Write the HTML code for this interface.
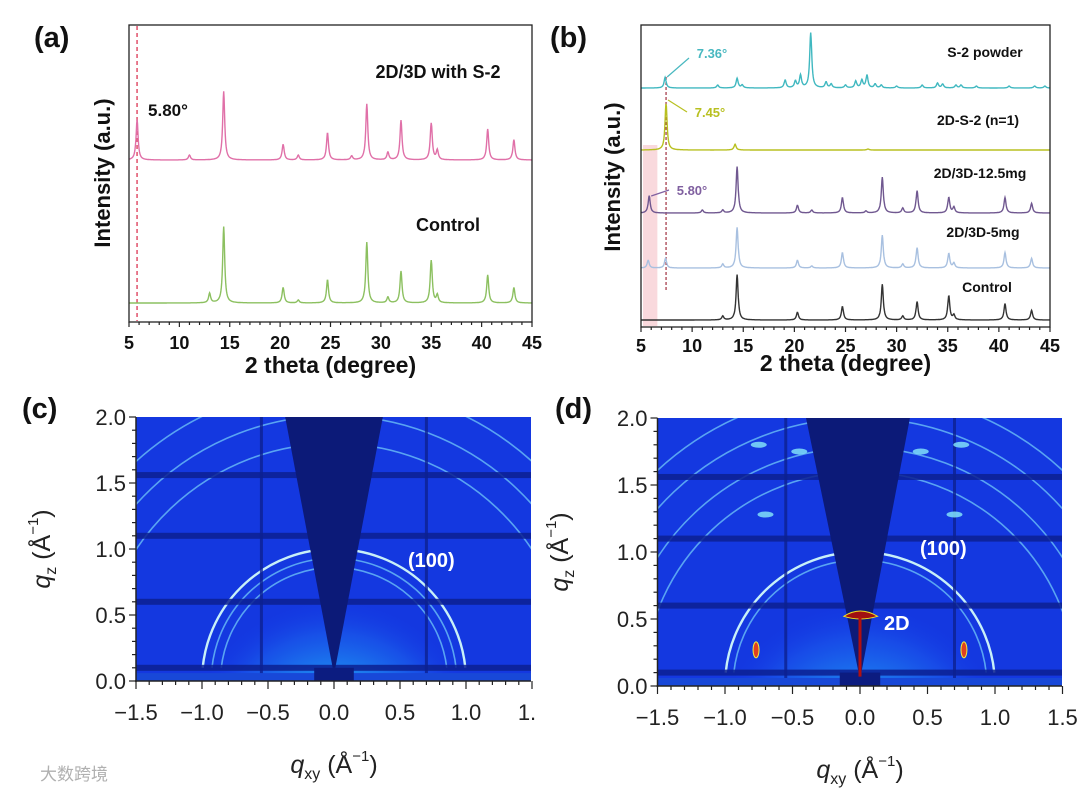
<!DOCTYPE html>
<html><head><meta charset="utf-8"><style>
html,body{margin:0;padding:0;background:#fff;}
svg{display:block;font-family:"Liberation Sans",Arial,sans-serif;}
</style></head><body>
<svg id="fig" width="1080" height="797" viewBox="0 0 1080 797" xmlns="http://www.w3.org/2000/svg">
<defs>
<radialGradient id="glowC" cx="0.5" cy="0.8" r="0.55"><stop offset="0" stop-color="#28e0f0"/><stop offset="0.35" stop-color="#20a8f4" stop-opacity="0.9"/><stop offset="0.75" stop-color="#1a60ec" stop-opacity="0.6"/><stop offset="1" stop-color="#1438e6" stop-opacity="0"/></radialGradient>
<radialGradient id="glowD" cx="0.5" cy="0.8" r="0.55"><stop offset="0" stop-color="#30f0e0"/><stop offset="0.3" stop-color="#20a0f4" stop-opacity="0.9"/><stop offset="0.75" stop-color="#1a58ec" stop-opacity="0.6"/><stop offset="1" stop-color="#1438e6" stop-opacity="0"/></radialGradient>
</defs>
</svg>
<script>
// ---------- data ----------
const aPinkPos=[5.8,11.0,14.4,20.3,21.8,24.7,27.1,28.6,30.7,32.0,35.0,35.6,40.6,43.2];
const aPinkH=[42,5,71,16,5,28,4,58,8,41,38,10,32,21];
const aGreenPos=[13.0,14.4,20.3,21.8,24.7,28.6,30.7,32.0,35.0,35.6,40.6,43.2];
const aGreenH=[10,79,16,3,24,63,6,33,44,8,29,16];
const bCyanPos=[7.36,12.5,14.4,14.9,19.1,20.1,20.6,21.6,23.1,23.6,25.0,26.0,26.6,27.1,27.9,28.5,30.0,32.5,34.0,34.5,35.8,36.3,37.8,41.0,43.5,44.5];
const bCyanH=[11,3,10,3,8,7,13,57,6,4,3,7,8,13,4,3,2,3,5,4,3,3,2,2,2,2];
const bYellowPos=[7.45,14.2,27.2];
const bYellowH=[48,6,1];
const bPurplePos=[5.8,11.0,13.0,14.4,20.3,21.7,24.7,27.0,28.6,30.6,32.0,35.1,35.6,40.6,43.2];
const bPurpleH=[18,3,3,48,8,3,16,2,37,5,23,16,6,16,10];
const bBluePos=[5.7,7.4,13.0,14.4,20.3,21.7,24.7,28.6,30.6,32.0,35.1,35.6,40.6,43.2];
const bBlueH=[8,10,4,42,8,2,16,34,4,21,15,5,16,10];
const bBlackPos=[13.0,14.4,20.3,24.7,28.6,30.6,32.0,35.1,35.6,40.6,43.2];
const bBlackH=[4,47,8,14,37,4,19,25,5,17,10];
const xTicks=[5,10,15,20,25,30,35,40,45];
const qxTicks=[-1.5,-1.0,-0.5,0.0,0.5,1.0,1.5];
const qzTicks=[0.0,0.5,1.0,1.5,2.0];
const ringsC=[1.0,0.93,0.86,1.8,2.01,2.24];
const ringsD=[1.0,0.94,1.6,1.78,2.0,2.2];

const NS="http://www.w3.org/2000/svg";
const svg=document.getElementById('fig');
function el(tag,attrs,parent){const e=document.createElementNS(NS,tag);for(const k in attrs)e.setAttribute(k,attrs[k]);(parent||svg).appendChild(e);return e;}
function txt(s,attrs,parent){const e=el('text',attrs,parent);e.textContent=s;return e;}

function profile(pos,h,x){let y=0;for(let i=0;i<pos.length;i++){const w=0.12;const d=(x-pos[i])/w;y+=h[i]/(1+d*d);}return y;}

// ---------- XRD panels ----------
function xrdPanel(cfg){
  const g=el('g',{});
  
  
  const X=v=>cfg.x0+(v-5)/40*(cfg.x1-cfg.x0);
  if(cfg.extra)cfg.extra(g,X);
  cfg.series.forEach(s=>{
    let d='';
    for(let t=5;t<=45.001;t+=0.04){const y=s.base-0.967*profile(s.pos,s.h,t);d+=(d?'L':'M')+X(t).toFixed(1)+','+y.toFixed(1);}
    const p=el('path',{d:d,fill:'none',stroke:s.color,'stroke-width':1.4},g);
    
    
  });
  const box=el('rect',{x:cfg.x0,y:cfg.y0,width:cfg.x1-cfg.x0,height:cfg.y1-cfg.y0,fill:'none',stroke:'#222','stroke-width':1.3},g);
  
  
  for(let t=5;t<=45;t+=1){const major=t%5===0;el('line',{x1:X(t),x2:X(t),y1:cfg.y1,y2:cfg.y1+(major?5:3),stroke:'#222','stroke-width':1.2},g);}
  xTicks.forEach(t=>{const l=txt(String(t),{x:X(t),y:cfg.tkY,'text-anchor':'middle','font-size':18,'font-weight':'bold',fill:'#111'},g);
    
    });
  const xt=txt('2 theta (degree)',{x:(cfg.x0+cfg.x1)/2,y:cfg.xtY,'text-anchor':'middle','font-size':23,'font-weight':'bold',fill:'#111'},g);
  
  
  const yt=txt('Intensity (a.u.)',{x:0,y:0,transform:`translate(${cfg.ytX},${cfg.ytY}) rotate(-90)`,'text-anchor':'middle','font-size':22,'font-weight':'bold',fill:'#111'},g);
  
  
  const pl=txt(cfg.label,{x:cfg.lx,y:cfg.ly,'font-size':29,'font-weight':'bold',fill:'#111'},g);
  
  
  cfg.labels.forEach(L=>{const t=txt(L[0],{x:L[1],y:L[2],'text-anchor':'middle','font-size':L[4]||16,'font-weight':'bold',fill:L[3]||'#111'},g);
    
    });
  return X;
}

xrdPanel({name:'panel-a-xrd',x0:129,x1:532,y0:25,y1:322,tkY:349,xtY:373,ytX:110,ytY:173,label:'(a)',lx:34,ly:47,
  extra:(g,X)=>{const l=el('line',{x1:X(5.8),x2:X(5.8),y1:26,y2:321,stroke:'#e0506a','stroke-width':1.5,'stroke-dasharray':'4,3'},g);
    
    },
  series:[{name:'series-2d3d-with-s2',pos:aPinkPos,h:aPinkH,base:160,color:'#e070a8'},
          {name:'series-control',pos:aGreenPos,h:aGreenH,base:303,color:'#8cc060'}],
  labels:[['2D/3D with S-2',438,78,'#111',18],['Control',448,231,'#111',18],['5.80°',168,116,'#111',17]]});

xrdPanel({name:'panel-b-xrd',x0:641,x1:1050,y0:25,y1:327,tkY:352,xtY:371,ytX:620,ytY:177,label:'(b)',lx:550,ly:47,
  extra:(g,X)=>{
    const r=el('rect',{x:X(5.2),y:145,width:X(6.6)-X(5.2),height:181,fill:'#f8d0d4',opacity:0.8},g);
    
    
    const l=el('line',{x1:X(7.45),x2:X(7.45),y1:77,y2:290,stroke:'#a03040','stroke-width':1.2,'stroke-dasharray':'3,2'},g);
    
    
    [[X(7.36),77,692,58,'#48b8c0'],[X(7.45),100,690,112,'#b8c020'],[X(5.8),196,672,190,'#8060a0']].forEach(a=>{
      const ar=el('line',{x1:a[2]-3,y1:a[3],x2:a[0]+2,y2:a[1],stroke:a[4],'stroke-width':1.2},g);
      
      });
  },
  series:[{name:'series-s2-powder',pos:bCyanPos,h:bCyanH,base:88,color:'#40b8c0'},
          {name:'series-2d-s2',pos:bYellowPos,h:bYellowH,base:150,color:'#b8c020'},
          {name:'series-2d3d-12-5mg',pos:bPurplePos,h:bPurpleH,base:213,color:'#705890'},
          {name:'series-2d3d-5mg',pos:bBluePos,h:bBlueH,base:268,color:'#a8c0e0'},
          {name:'series-control',pos:bBlackPos,h:bBlackH,base:320,color:'#333'}],
  labels:[['S-2 powder',985,57,'#111',14],['2D-S-2 (n=1)',978,125,'#111',14],['2D/3D-12.5mg',980,178,'#111',14],['2D/3D-5mg',983,237,'#111',14],['Control',987,292,'#111',14],
          ['7.36°',712,58,'#48b8c0',13],['7.45°',710,117,'#b8c020',13],['5.80°',692,195,'#8060a0',13]]});

// ---------- GIWAXS panels ----------
function giwaxs(cfg){
  const g=el('g',{});
  
  
  const X=v=>cfg.xc+v*cfg.ux, Y=v=>cfg.y0q-v*cfg.uy;
  const L=X(-1.5),R=Math.min(X(1.5),cfg.clipR),T=Y(2.0),B=Y(0);
  const cid='clip'+cfg.name;
  const cp=el('clipPath',{id:cid},g);el('rect',{x:L,y:T,width:R-L,height:B-T},cp);
  const img=el('g',{'clip-path':`url(#${cid})`},g);
  
  
  el('rect',{x:L,y:T,width:R-L,height:B-T,fill:'#1438e0'},img);
  el('ellipse',{cx:X(0),cy:Y(0.15),rx:cfg.ux*1.0,ry:cfg.uy*0.95,fill:cfg.glow},img);
  cfg.rings.forEach((r,i)=>{
    const a0=Math.asin(Math.min(1,0.1/r));
    const d=`M${X(-r*Math.cos(a0))},${Y(r*Math.sin(a0))} A${r*cfg.ux},${r*cfg.uy} 0 0 1 ${X(r*Math.cos(a0))},${Y(r*Math.sin(a0))}`;
    const c=el('path',{d:d,fill:'none',stroke:i===0?'#c8f0f8':'#70c8f8','stroke-width':i===0?2.4:1.6,opacity:i===0?1:0.75},img);
    
    
  });
  cfg.hgaps.forEach(q=>el('rect',{x:L,y:Y(q)-3,width:R-L,height:6,fill:'#0c2090',opacity:0.85},img));
  cfg.vgaps.forEach(q=>el('rect',{x:X(q)-1.5,y:T,width:3,height:B-T,fill:'#0c2090',opacity:0.8},img));
  el('rect',{x:L,y:Y(0.06),width:R-L,height:B-Y(0.06),fill:'#1848d8'},img);
  el('rect',{x:X(-0.15),y:Y(0.1),width:cfg.ux*0.3,height:B-Y(0.1),fill:'#0c1c80'},img);
  if(cfg.extra)cfg.extra(img,X,Y);
  const w=el('path',{d:`M${X(cfg.wedge[0])},${T} L${X(cfg.wedge[1])},${T} L${X(0.01)},${Y(0.1)} L${X(-0.01)},${Y(0.1)}Z`,fill:'#0c1a78'},img);
  
  
  if(cfg.extra2)cfg.extra2(img,X,Y);
  el('line',{x1:L,x2:L,y1:T,y2:B+1,stroke:'#222','stroke-width':1.5},g);
  el('line',{x1:L-1,x2:R,y1:B,y2:B,stroke:'#222','stroke-width':1.5},g);
  for(let i=0;i<=20;i++){const q=i*0.1;const m=i%5===0;el('line',{x1:L,x2:L-(m?7:4),y1:Y(q),y2:Y(q),stroke:'#222','stroke-width':1.2},g);}
  for(let i=-15;i<=15;i++){const q=i*0.1;if(X(q)>R+1)continue;const m=i%5===0;el('line',{x1:X(q),x2:X(q),y1:B,y2:B+(m?8:4),stroke:'#222','stroke-width':1.2},g);}
  qzTicks.forEach(q=>{const t=txt(q.toFixed(1),{x:L-10,y:Y(q)+8,'text-anchor':'end','font-size':22,fill:'#222'},g);
    
    });
  qxTicks.forEach(q=>{let s=(q<0?'−':'')+Math.abs(q).toFixed(1);let xx=X(q);
    if(cfg.cutLast && q===1.5){s='1.';xx=cfg.clipR-4;}
    const t=txt(s,{x:xx,y:B+39,'text-anchor':'middle','font-size':22,fill:'#222'},g);
    
    });
  const xt=el('text',{x:X(0),y:B+92,'text-anchor':'middle','font-size':25,fill:'#222'},g);
  xt.innerHTML='<tspan font-style="italic">q</tspan><tspan font-size="16" dy="6">xy</tspan><tspan dy="-6"> (Å</tspan><tspan font-size="15" dy="-12">−1</tspan><tspan dy="12">)</tspan>';
  
  
  const yt=el('text',{x:0,y:0,transform:`translate(${cfg.ytX},${Y(1.0)}) rotate(-90)`,'text-anchor':'middle','font-size':25,fill:'#222'},g);
  yt.innerHTML='<tspan font-style="italic">q</tspan><tspan font-size="16" dy="6">z</tspan><tspan dy="-6"> (Å</tspan><tspan font-size="15" dy="-12">−1</tspan><tspan dy="12">)</tspan>';
  
  
  const pl=txt(cfg.label,{x:cfg.lx,y:cfg.ly,'font-size':29,'font-weight':'bold',fill:'#111'},g);
  
  
  const rl=txt('(100)',{x:cfg.rlx,y:cfg.rly,'font-size':20,'font-weight':'bold',fill:'#fff'},g);
  
  
}

giwaxs({name:'panel-c-giwaxs',xc:334,ux:132,y0q:681,uy:132,clipR:531,cutLast:true,glow:'url(#glowC)',rings:ringsC,
  hgaps:[1.56,1.1,0.6,0.1],vgaps:[-0.55,0.7],wedge:[-0.37,0.37],ytX:50,label:'(c)',lx:22,ly:418,rlx:408,rly:567});
giwaxs({name:'panel-d-giwaxs',xc:860,ux:135,y0q:686,uy:134,clipR:1062,cutLast:false,glow:'url(#glowD)',rings:ringsD,
  hgaps:[1.56,1.1,0.6,0.1],vgaps:[-0.55,0.7],wedge:[-0.4,0.37],ytX:568,label:'(d)',lx:555,ly:418,rlx:920,rly:555,
  extra:(g,X,Y)=>{
    [[-0.77,0.27],[0.77,0.27]].forEach(p=>{el('ellipse',{cx:X(p[0]),cy:Y(p[1]),rx:3,ry:8,fill:'#e04020',stroke:'#f0f040','stroke-width':1},g);});
    [[-0.7,1.28],[0.7,1.28],[-0.75,1.8],[0.75,1.8],[-0.45,1.75],[0.45,1.75]].forEach(p=>{el('ellipse',{cx:X(p[0]),cy:Y(p[1]),rx:8,ry:3,fill:'#80e0f8',opacity:0.85},g);});
  },
  extra2:(g,X,Y)=>{
    const s=el('path',{d:`M${X(-0.12)},${Y(0.52)} Q${X(0)},${Y(0.6)} ${X(0.13)},${Y(0.52)} Q${X(0)},${Y(0.48)} ${X(-0.12)},${Y(0.52)}Z`,fill:'#a01010',stroke:'#f0e020','stroke-width':1},g);
    
    
    el('rect',{x:X(0)-1.5,y:Y(0.52),width:3,height:Y(0.07)-Y(0.52),fill:'#b01010'},g);
  }});
const l2d=txt('2D',{x:884,y:630,'font-size':20,'font-weight':'bold',fill:'#fff'});


const wm=txt('大数跨境',{x:40,y:780,'font-size':17,fill:'#b0b0b0','font-family':'"Liberation Sans","Noto Sans CJK SC",sans-serif'});


</script>
</body></html>
